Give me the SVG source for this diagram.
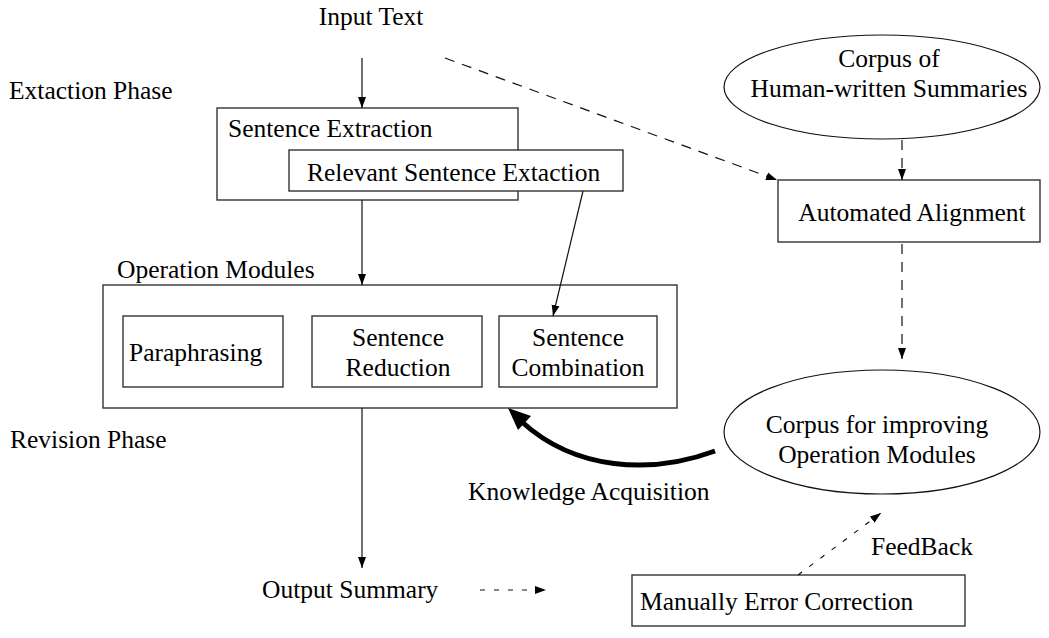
<svg xmlns="http://www.w3.org/2000/svg" width="1049" height="638" viewBox="0 0 1049 638">
  <style>
    text { font-family: 'Liberation Serif', 'DejaVu Serif', 'Times New Roman', Times, serif; font-size: 25.5px; fill: #000; }
    .mid { text-anchor: middle; }
    .box { fill: #fff; stroke: #333; stroke-width: 1.4; }
    .oval { fill: none; stroke: #111; stroke-width: 1.2; }
    .line { fill: none; stroke: #111; stroke-width: 1.2; }
    .dash { fill: none; stroke: #111; stroke-width: 1.2; stroke-dasharray: 10 8; }
    .dot { fill: none; stroke: #111; stroke-width: 1.2; stroke-dasharray: 5 9; }
  </style>
  <defs>
    <marker id="tip" markerWidth="12" markerHeight="10" refX="11" refY="5" orient="auto" markerUnits="userSpaceOnUse">
      <path d="M0,1 L11,5 L0,9 Z" fill="#000"/>
    </marker>
  </defs>

  <rect width="1049" height="638" fill="#fff"/>

  <g font-family="Liberation Serif, DejaVu Serif, serif">
  <!-- phase captions -->
  <text id="extraction-phase" x="9" y="99">Extaction Phase</text>
  <text id="revision-phase" x="10" y="448">Revision Phase</text>

  <g id="input-text"><text class="mid" x="371" y="25">Input Text</text></g>

  <g id="sentence-extraction">
    <rect class="box" x="217" y="108" width="301" height="92"/>
    <text x="228" y="137">Sentence Extraction</text>
  </g>
  <g id="relevant-extraction">
    <rect class="box" x="289" y="150" width="334" height="41"/>
    <text x="307" y="181">Relevant Sentence Extaction</text>
  </g>

  <g id="operation-modules">
    <text x="117" y="278">Operation Modules</text>
    <rect class="box" x="103" y="285" width="574" height="123"/>
  </g>
  <g id="paraphrasing">
    <rect class="box" x="123" y="316" width="160" height="71"/>
    <text x="129" y="361">Paraphrasing</text>
  </g>
  <g id="sentence-reduction">
    <rect class="box" x="312" y="316" width="170" height="71"/>
    <text class="mid" x="398" y="346">Sentence</text>
    <text class="mid" x="398" y="376">Reduction</text>
  </g>
  <g id="sentence-combination">
    <rect class="box" x="499" y="316" width="158" height="71"/>
    <text class="mid" x="578" y="346">Sentence</text>
    <text class="mid" x="578" y="376">Combination</text>
  </g>

  <g id="human-corpus">
    <ellipse class="oval" cx="882" cy="87" rx="158" ry="52"/>
    <text class="mid" x="889" y="67">Corpus of</text>
    <text class="mid" x="889" y="97">Human-written Summaries</text>
  </g>
  <g id="automated-alignment">
    <rect class="box" x="778" y="180" width="262" height="62"/>
    <text class="mid" x="912" y="221">Automated Alignment</text>
  </g>
  <g id="improving-corpus">
    <ellipse class="oval" cx="882" cy="432" rx="158" ry="62"/>
    <text class="mid" x="877" y="433">Corpus for improving</text>
    <text class="mid" x="877" y="463">Operation Modules</text>
  </g>

  <g id="output-summary"><text x="262" y="598">Output Summary</text></g>
  <g id="error-correction">
    <rect class="box" x="632" y="575" width="333" height="51"/>
    <text x="640" y="610">Manually Error Correction</text>
  </g>

  <g id="edge-labels">
    <text x="468" y="500">Knowledge Acquisition</text>
    <text x="871" y="555">FeedBack</text>
  </g>
  </g>

  <g id="connectors">
    <line class="line" x1="362" y1="58" x2="362" y2="108" marker-end="url(#tip)"/>
    <line class="dash" x1="445" y1="58" x2="777" y2="180" marker-end="url(#tip)"/>
    <line class="line" x1="362" y1="200" x2="362" y2="285" marker-end="url(#tip)"/>
    <line class="line" x1="583" y1="191" x2="553" y2="316" marker-end="url(#tip)"/>
    <line class="dash" x1="902" y1="140" x2="902" y2="180" marker-end="url(#tip)"/>
    <line class="dash" x1="902" y1="244" x2="902" y2="359" marker-end="url(#tip)"/>
    <line class="line" x1="362" y1="408" x2="362" y2="568" marker-end="url(#tip)"/>
    <line class="dot" x1="480" y1="590" x2="546" y2="590" marker-end="url(#tip)"/>
    <line class="dot" x1="798" y1="575" x2="881" y2="513" marker-end="url(#tip)"/>
    <!-- heavy curved arrow: knowledge acquisition back into the modules -->
    <path d="M715,451 C650,475 575,470 522,422" fill="none" stroke="#000" stroke-width="5"/>
    <path d="M508,408 L531,416 L518,430 Z" fill="#000"/>
  </g>
</svg>
